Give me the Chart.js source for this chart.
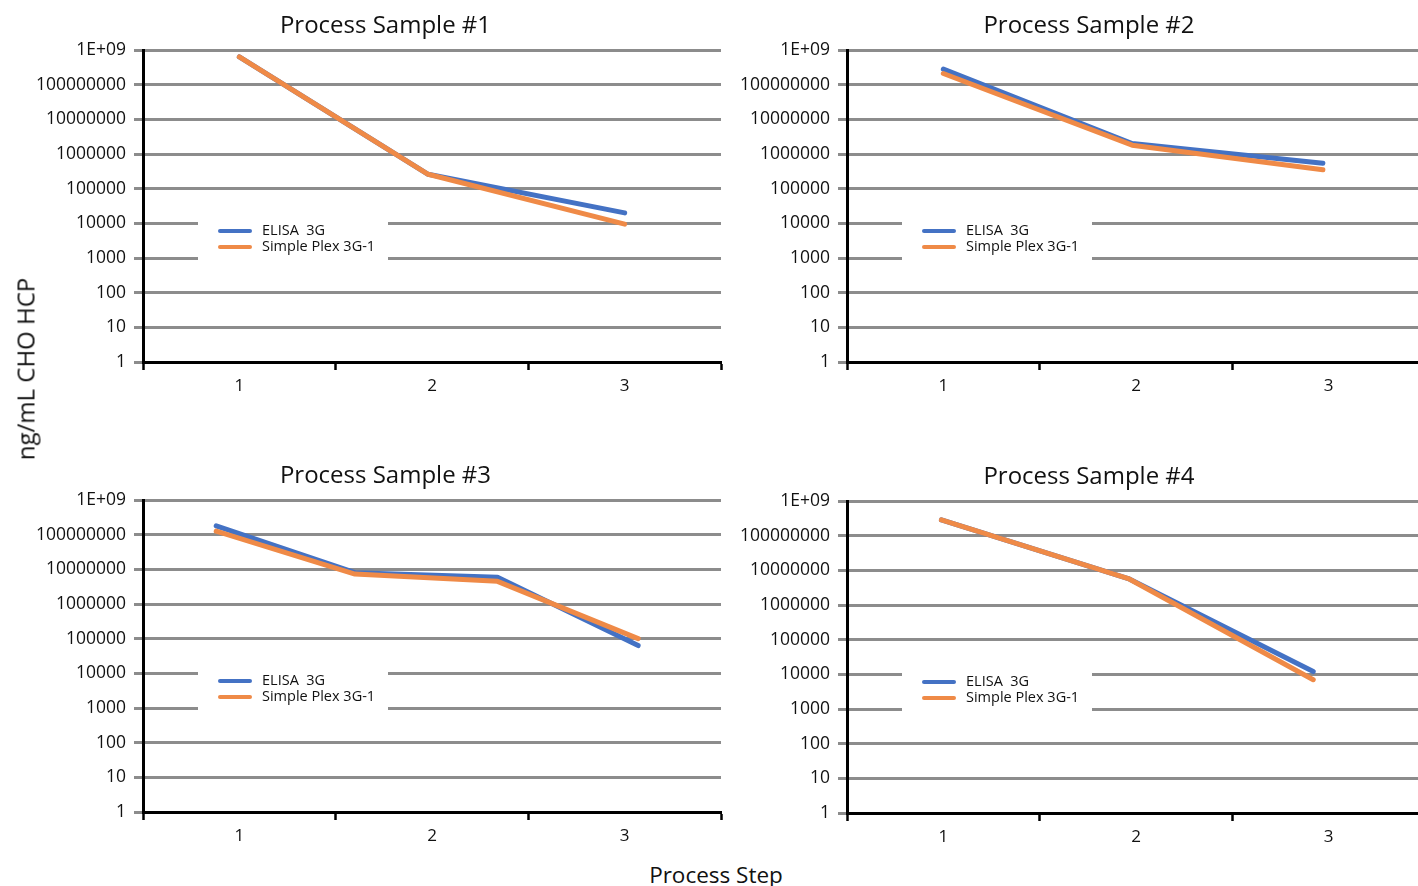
<!DOCTYPE html>
<html>
<head>
<meta charset="utf-8">
<script src="https://cdn.jsdelivr.net/npm/chart.js"></script>
<style>
    html, body { margin: 0; padding: 0; background: #fff; overflow: hidden; }
    body { width: 1418px; height: 886px; position: relative; font-family: "Open Sans", sans-serif; }
    .panel { position: absolute; }
    .axis-title { position: absolute; color: #111; white-space: nowrap; }
    #yTitle { left: 25px; top: 369px; font-size: 24px; transform: translate(-50%, -50%) rotate(-90deg); }
    #xTitle { left: 716px; top: 874px; font-size: 22.5px; transform: translate(-50%, -50%); }
</style>
</head>
<body>
<div class="panel" style="left:0;top:0;width:727px;height:405px"><canvas id="chart1"></canvas></div>
<div class="panel" style="left:700px;top:0;width:731px;height:405px"><canvas id="chart2"></canvas></div>
<div class="panel" style="left:0;top:450px;width:727px;height:405px"><canvas id="chart3"></canvas></div>
<div class="panel" style="left:700px;top:451px;width:731px;height:405px"><canvas id="chart4"></canvas></div>
<div class="axis-title" id="yTitle">ng/mL CHO HCP</div>
<div class="axis-title" id="xTitle">Process Step</div>

<script>
// Data
const xLabels = ['1', '2', '3'];
const yTickValues = [1, 10, 100, 1000, 10000, 100000, 1000000, 10000000, 100000000, 1000000000];
const yTickLabels = ['1', '10', '100', '1000', '10000', '100000', '1000000', '10000000', '100000000', '1E+09'];
const seriesNames = ['ELISA  3G', 'Simple Plex 3G-1'];
const titles = ['Process Sample #1', 'Process Sample #2', 'Process Sample #3', 'Process Sample #4'];

const steps1 = [1, 1.98, 3];
const elisa1 = [6.3e8, 2.6e5, 2.0e4];
const plex1 = [6.3e8, 2.6e5, 9.5e3];

const steps2 = [1, 1.98, 2.97];
const elisa2 = [2.8e8, 2.0e6, 5.4e5];
const plex2 = [2.1e8, 1.8e6, 3.5e5];

const steps3 = [0.88, 1.6, 2.34, 3.07];
const elisa3 = [1.8e8, 8.0e6, 5.9e6, 6.3e4];
const plex3 = [1.26e8, 7.3e6, 4.5e6, 1.0e5];

const steps4 = [0.99, 1.96, 2.92];
const elisa4 = [2.85e8, 5.8e6, 1.2e4];
const plex4 = [2.85e8, 5.8e6, 7.0e3];

const BLUE = '#4472c4';
const ORANGE = '#ef8a47';
const GRID = '#8c8c8c';

Chart.defaults.font.family = '"Open Sans", sans-serif';
Chart.defaults.color = '#111';

// legend drawn inside the plot, on a white box over the gridlines
const boxLegend = {
    id: 'boxLegend',
    beforeDatasetsDraw(chart, args, opts) {
        const { ctx, chartArea } = chart;
        const left = chartArea.left + opts.offsetX;
        const top = chartArea.top + opts.offsetY;
        ctx.save();
        ctx.fillStyle = '#fff';
        ctx.fillRect(left, top, opts.width, opts.height);
        ctx.font = opts.font;
        ctx.textBaseline = 'middle';
        ctx.textAlign = 'left';
        chart.data.datasets.forEach((ds, i) => {
            const y = top + opts.firstRow + i * opts.rowGap;
            ctx.strokeStyle = ds.borderColor;
            ctx.lineWidth = 4;
            ctx.lineCap = 'round';
            ctx.beginPath();
            ctx.moveTo(left + 22, y);
            ctx.lineTo(left + 52, y);
            ctx.stroke();
            ctx.fillStyle = '#111';
            ctx.fillText(ds.label, left + 64, y);
        });
        ctx.restore();
    }
};

// y labels hang out past the axis box; widen the box left so they are not clipped
const unclipY = {
    id: 'unclipY',
    afterLayout(chart) {
        chart.scales.y.left = 0;
    }
};

function toPoints(steps, values) {
    return steps.map((s, i) => ({ x: s, y: values[i] }));
}

function makeChart(id, title, steps, elisa, plex, padLeft, yWidth) {
    const ctx = document.getElementById(id);
    return new Chart(ctx, {
        type: 'line',
        data: {
            datasets: [{
                label: seriesNames[0],
                data: toPoints(steps, elisa),
                borderColor: BLUE,
                backgroundColor: BLUE,
                borderWidth: 5,
                pointRadius: 0,
                borderCapStyle: 'round',
                borderJoinStyle: 'round',
                order: 2
            }, {
                label: seriesNames[1],
                data: toPoints(steps, plex),
                borderColor: ORANGE,
                backgroundColor: ORANGE,
                borderWidth: 5,
                pointRadius: 0,
                borderCapStyle: 'round',
                borderJoinStyle: 'round',
                order: 1
            }]
        },
        options: {
            responsive: true,
            maintainAspectRatio: false,
            animation: false,
            layout: {
                padding: { left: padLeft, right: 6, top: 12, bottom: 2.6 }
            },
            plugins: {
                legend: { display: false },
                tooltip: { enabled: false },
                title: {
                    display: true,
                    text: title,
                    color: '#111',
                    font: { size: 24, weight: 'normal' },
                    padding: { top: 0, bottom: 9.2 }
                },
                boxLegend: {
                    offsetX: 55,
                    offsetY: 159,
                    width: 190,
                    height: 62,
                    firstRow: 22,
                    rowGap: 16,
                    font: '14.5px "Open Sans", sans-serif'
                }
            },
            scales: {
                x: {
                    type: 'linear',
                    min: 0.5,
                    max: 3.5,
                    afterBuildTicks: scale => {
                        scale.ticks = [0.5, 1, 1.5, 2, 2.5, 3, 3.5].map(v => ({ value: v }));
                    },
                    ticks: {
                        autoSkip: false,
                        maxRotation: 0,
                        padding: 6,
                        color: '#111',
                        font: { size: 17 },
                        callback: value => Number.isInteger(value) ? xLabels[value - 1] : ''
                    },
                    grid: {
                        drawOnChartArea: false,
                        tickLength: 8,
                        tickWidth: 2.5,
                        tickColor: c => (c.tick && Number.isInteger(c.tick.value)) ? 'rgba(0,0,0,0)' : '#000'
                    },
                    border: { color: '#000', width: 3 }
                },
                y: {
                    type: 'logarithmic',
                    min: 1,
                    max: 1e9,
                    afterBuildTicks: scale => {
                        scale.ticks = yTickValues.map(v => ({ value: v }));
                    },
                    afterFit: scale => { scale.width = yWidth; },
                    ticks: {
                        autoSkip: false,
                        padding: 8,
                        color: '#111',
                        font: { size: 17.5 },
                        callback: value => yTickLabels[yTickValues.indexOf(value)]
                    },
                    grid: {
                        color: GRID,
                        lineWidth: 3,
                        tickLength: 9,
                        tickColor: GRID
                    },
                    border: { color: '#000', width: 3 }
                }
            }
        },
        plugins: [boxLegend, unclipY]
    });
}

makeChart('chart1', titles[0], steps1, elisa1, plex1, 50, 93);
makeChart('chart2', titles[1], steps2, elisa2, plex2, 53, 94);
makeChart('chart3', titles[2], steps3, elisa3, plex3, 50, 93);
makeChart('chart4', titles[3], steps4, elisa4, plex4, 53, 94);
</script>
</body>
</html>
